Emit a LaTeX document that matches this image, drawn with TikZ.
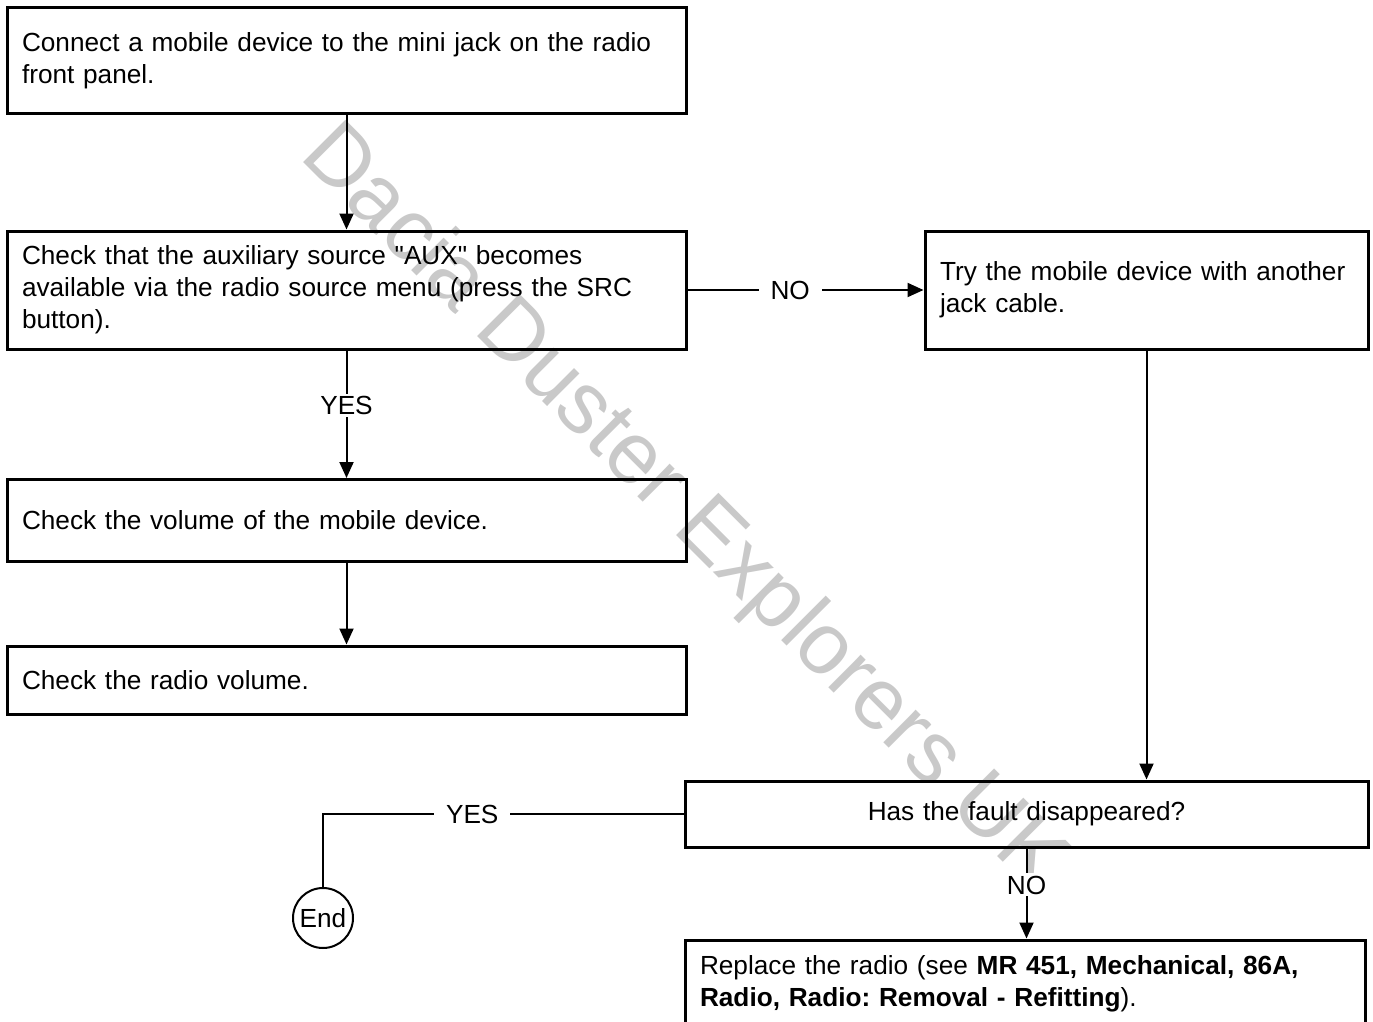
\documentclass[tikz,border=0pt]{standalone}
\usepackage{fontspec}
\setmainfont{Liberation Sans}
\usetikzlibrary{arrows.meta}
\newcommand\fsz{\fontsize{26.2}{32}\selectfont}
\newcommand\dq{\XeTeXglyph\XeTeXcharglyph"22\relax}
\frenchspacing
\begin{document}
\begin{tikzpicture}[x=1pt,y=-1pt,
  box/.style={draw, line width=3pt, rectangle, inner sep=0pt, align=left, font=\fsz},
  conn/.style={line width=2pt, -{Triangle[width=14pt,length=16pt]}},
  plainconn/.style={line width=2pt},
  lbl/.style={fill=white, inner xsep=12pt, inner ysep=2pt, text height=19pt, text depth=0pt, font=\fsz},
  endnode/.style={draw, circle, line width=2pt, minimum size=60pt, inner sep=0pt, font=\fsz},
  wmark/.style={text=gray!42, font=\fontsize{87}{100}\selectfont, rotate=-45, anchor=base}]
\useasboundingbox (0,0) rectangle (1373,1022);
\clip (0,0) rectangle (1373,1022);
\node[wmark] (wm) at (666,525) {Dacia Duster Explorers UK};

\node[box, minimum width=679pt, minimum height=106pt, text width=649pt] (b1) at (346.5,61)
  {Connect a mobile device to the mini jack on the radio\\front panel.};
\node[box, minimum width=679pt, minimum height=118pt, text width=649pt] (b2) at (346.5,290)
  {Check that the auxiliary source \dq AUX\dq{} becomes\\available via the radio source menu (press the SRC\\button).};
\node[box, minimum width=443pt, minimum height=118pt, text width=413pt] (b3) at (1146.5,290)
  {Try the mobile device with another\\jack cable.};
\node[box, minimum width=679pt, minimum height=82pt, text width=649pt] (b4) at (346.5,520.5)
  {Check the volume of the mobile device.};
\node[box, minimum width=679pt, minimum height=68pt, text width=649pt] (b5) at (346.5,680)
  {Check the radio volume.};
\node[box, minimum width=683pt, minimum height=66pt, text width=653pt, align=center] (b6) at (1026.5,814)
  {Has the fault disappeared?};
\node[box, minimum width=680pt, minimum height=88pt, text width=650pt] (b7) at (1025,984)
  {Replace the radio (see \textbf{MR 451, Mechanical, 86A,}\\\textbf{Radio, Radio: Removal - Refitting}).};
\node[endnode] (end) at (323,918) {End};

\draw[conn] (b1.south) -- (b2.north);
\draw[conn] (b2.south) -- node[lbl, pos=0.43] (ly1) {YES} (b4.north);
\draw[conn] (b4.south) -- (b5.north);
\draw[conn] (b2.east) -- node[lbl, pos=0.435] (ln1) {NO} (b3.west);
\draw[conn] (b3.south) -- (b3.south |- b6.north);
\draw[plainconn] (b6.west) -| node[lbl, pos=0.293] (ly2) {YES} (end.north);
\draw[conn] (b6.south) -- node[lbl, pos=0.40] (ln2) {NO} (b6.south |- b7.north);
\end{tikzpicture}
\end{document}
